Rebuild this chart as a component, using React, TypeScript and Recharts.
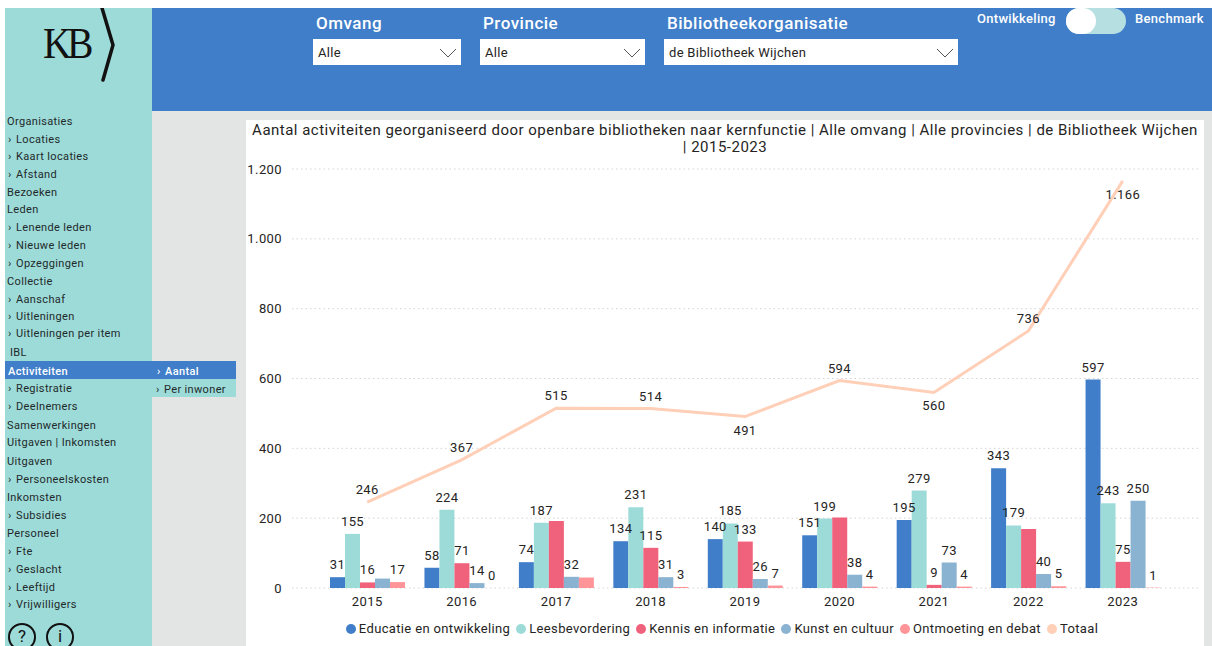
import * as React from 'react';

import {
  Bar,
  CartesianGrid,
  ComposedChart,
  LabelList,
  Legend,
  Line,
  XAxis,
  YAxis,
} from 'recharts';

const years = ['2015', '2016', '2017', '2018', '2019', '2020', '2021', '2022', '2023'];
const educatie = [31, 58, 74, 134, 140, 151, 195, 343, 597];
const leesbevordering = [155, 224, 187, 231, 185, 199, 279, 179, 243];
const kennis = [16, 71, 192, 115, 133, 202, 9, 169, 75];
const kunst = [27, 14, 32, 31, 26, 38, 73, 40, 250];
const ontmoeting = [17, 0, 30, 3, 7, 4, 4, 5, 1];
const totaal = [246, 367, 515, 514, 491, 594, 560, 736, 1166];
const yTicks = [0, 200, 400, 600, 800, 1000, 1200];

// Power BI drops these labels because they collide with a neighbour.
const kennisNoLabel = ['2017', '2020', '2022'];
const kunstNoLabel = ['2015'];
const ontmoetingNoLabel = ['2017'];
const totaalBelow = ['2019', '2021', '2023'];

const data = years.map((year, i) => ({
  year,
  educatie: educatie[i],
  leesbevordering: leesbevordering[i],
  kennis: kennis[i],
  kunst: kunst[i],
  ontmoeting: ontmoeting[i],
  totaal: totaal[i],
  kennisLabel: kennisNoLabel.includes(year) ? null : kennis[i],
  kunstLabel: kunstNoLabel.includes(year) ? null : kunst[i],
  ontmoetingLabel: ontmoetingNoLabel.includes(year) ? null : String(ontmoeting[i]),
}));

const menu = [
  ['Organisaties', 121, 0],
  ['Locaties', 139, 1],
  ['Kaart locaties', 156, 1],
  ['Afstand', 174, 1],
  ['Bezoeken', 192, 0],
  ['Leden', 209, 0],
  ['Lenende leden', 227, 1],
  ['Nieuwe leden', 245, 1],
  ['Opzeggingen', 263, 1],
  ['Collectie', 281, 0],
  ['Aanschaf', 299, 1],
  ['Uitleningen', 316, 1],
  ['Uitleningen per item', 333, 1],
  ['Registratie', 388, 1],
  ['Deelnemers', 406, 1],
  ['Samenwerkingen', 425, 0],
  ['Uitgaven | Inkomsten', 442, 0],
  ['Uitgaven', 461, 0],
  ['Personeelskosten', 479, 1],
  ['Inkomsten', 497, 0],
  ['Subsidies', 515, 1],
  ['Personeel', 533, 0],
  ['Fte', 551, 1],
  ['Geslacht', 569, 1],
  ['Leeftijd', 587, 1],
  ['Vrijwilligers', 604, 1],
] as const;

const font = 'Roboto, sans-serif';
const blue = '#407EC9';
const teal = '#9DDBD9';
const ink = '#252423';

const labelStyle = { fontSize: 13, fill: ink, fontFamily: font, letterSpacing: 0.4 };

function box(left: number, top: number, width: number, height: number, background: string): React.CSSProperties {
  return { position: 'absolute', left, top, width, height, background };
}

function MenuText({ x, y, color, bold, children }: { x: number; y: number; color?: string; bold?: boolean; children: React.ReactNode }) {
  return (
    <div
      style={{
        position: 'absolute',
        left: x,
        top: y - 7,
        height: 16,
        lineHeight: '16px',
        fontSize: 11,
        fontWeight: bold ? 500 : 400,
        letterSpacing: 0.35,
        whiteSpace: 'nowrap',
        color: color ?? '#1f2a2a',
      }}
    >
      {children}
    </div>
  );
}

function Dropdown({ x, width, title, value }: { x: number; width: number; title: string; value: string }) {
  return (
    <>
      <div style={{ position: 'absolute', left: x + 3, top: 12, fontSize: 17, lineHeight: '22px', fontWeight: 500, letterSpacing: 0.5, color: '#fff', whiteSpace: 'nowrap' }}>
        {title}
      </div>
      <div style={box(x, 39, width, 26, '#fff')} />
      <div style={{ position: 'absolute', left: x + 5, top: 40, lineHeight: '26px', fontSize: 13, letterSpacing: 0.3, color: ink, whiteSpace: 'nowrap' }}>
        {value}
      </div>
      <svg style={{ position: 'absolute', left: x + width - 22, top: 47 }} width={18} height={12}>
        <polyline points="1,2 9,10 17,2" fill="none" stroke="#555" strokeWidth={1} />
      </svg>
    </>
  );
}

function Circle({ x, children }: { x: number; children: string }) {
  return (
    <>
      <div style={{ position: 'absolute', left: x, top: 623, width: 24, height: 24, border: '2px solid #111', borderRadius: '50%' }} />
      <div style={{ position: 'absolute', left: x, top: 627, width: 28, height: 18, textAlign: 'center', lineHeight: '18px', fontSize: 17, color: '#111' }}>
        {children}
      </div>
    </>
  );
}

function TotaalLabel(props: any) {
  const { x, y, value, index } = props;
  const below = totaalBelow.includes(years[index]);
  return (
    <text x={x} y={below ? y + 18 : y - 8} textAnchor="middle" {...labelStyle}>
      {new Intl.NumberFormat('nl-NL').format(value)}
    </text>
  );
}

function LegendRow({ payload }: any) {
  return (
    <div style={{ position: 'relative', top: 3, display: 'flex', justifyContent: 'center', gap: 6, fontSize: 13, letterSpacing: 0.35, color: ink, fontFamily: font }}>
      {payload.map((item: any) => (
        <span key={item.value} style={{ display: 'flex', alignItems: 'center', gap: 3, whiteSpace: 'nowrap' }}>
          <span style={{ width: 10, height: 10, borderRadius: '50%', background: item.color }} />
          {item.value}
        </span>
      ))}
    </div>
  );
}

function Chart() {
  return (
    <ComposedChart
      width={958}
      height={526}
      data={data}
      margin={{ top: 49, right: 6, bottom: 4, left: 0 }}
      barCategoryGap={10}
      barGap={0}
    >
      <CartesianGrid horizontal vertical={false} stroke="#d4d4d4" strokeDasharray="1.5 3" />
      <XAxis
        dataKey="year"
        axisLine={false}
        tickLine={false}
        height={30}
        padding={{ left: 28, right: 28 }}
        tick={labelStyle}
        tickMargin={3}
      />
      <YAxis
        width={46}
        domain={[0, 1200]}
        ticks={yTicks}
        axisLine={false}
        tickLine={false}
        tick={labelStyle}
        tickMargin={4}
        tickFormatter={(v: number) => (v >= 1000 ? `${Math.floor(v / 1000)}.${String(v % 1000).padStart(3, '0')}` : String(v))}
      />
      <Legend verticalAlign="bottom" height={24} itemSorter={null} content={LegendRow} />
      <Bar dataKey="educatie" name="Educatie en ontwikkeling" fill={blue} isAnimationActive={false}>
        <LabelList dataKey="educatie" position="top" offset={8} style={labelStyle} />
      </Bar>
      <Bar dataKey="leesbevordering" name="Leesbevordering" fill={teal} isAnimationActive={false}>
        <LabelList dataKey="leesbevordering" position="top" offset={8} style={labelStyle} />
      </Bar>
      <Bar dataKey="kennis" name="Kennis en informatie" fill="#F0627C" isAnimationActive={false}>
        <LabelList dataKey="kennisLabel" position="top" offset={8} style={labelStyle} />
      </Bar>
      <Bar dataKey="kunst" name="Kunst en cultuur" fill="#8AB2D1" isAnimationActive={false}>
        <LabelList dataKey="kunstLabel" position="top" offset={8} style={labelStyle} />
      </Bar>
      {/* zero-height bars lose their label, so give them a hair of height */}
      <Bar
        dataKey="ontmoeting"
        name="Ontmoeting en debat"
        fill="#FF9598"
        minPointSize={(v: any) => (v === 0 ? 0.01 : 0)}
        isAnimationActive={false}
      >
        <LabelList dataKey="ontmoetingLabel" position="top" offset={8} style={labelStyle} />
      </Bar>
      <Line
        dataKey="totaal"
        name="Totaal"
        stroke="#FFCFB8"
        strokeWidth={3}
        dot={false}
        activeDot={false}
        legendType="circle"
        isAnimationActive={false}
      >
        <LabelList dataKey="totaal" content={TotaalLabel} />
      </Line>
    </ComposedChart>
  );
}

export default function App() {
  return (
    <div style={{ position: 'absolute', left: 0, top: 0, width: 1212, height: 646, overflow: 'hidden', background: '#fff', fontFamily: font }}>
      <div style={box(152, 111, 1060, 535, '#E3E5E4')} />
      <div style={box(5, 8, 147, 638, teal)} />
      <div style={box(152, 8, 1060, 103, blue)} />

      {/* logo */}
      <div style={{ position: 'absolute', left: 43, top: 20, fontFamily: 'Liberation Serif, serif', fontSize: 44, lineHeight: '48px', letterSpacing: -5, color: '#111', transform: 'scaleX(0.9)', transformOrigin: 'left' }}>
        KB
      </div>
      <svg style={{ position: 'absolute', left: 96, top: 8 }} width={24} height={76}>
        <polyline points="6,0 17,37 7,72" fill="none" stroke="#111" strokeWidth={3.5} strokeLinecap="round" />
      </svg>

      {/* side menu */}
      {menu.map(([text, y, sub]) =>
        sub ? (
          <React.Fragment key={text}>
            <MenuText x={8} y={y}>›</MenuText>
            <MenuText x={16} y={y}>{text}</MenuText>
          </React.Fragment>
        ) : (
          <MenuText key={text} x={7} y={y}>{text}</MenuText>
        ),
      )}
      <MenuText x={10} y={352}>IBL</MenuText>
      <div style={box(5, 361, 231, 18, blue)} />
      <div style={box(152, 379, 84, 18, teal)} />
      <MenuText x={8} y={371} color="#fff" bold>Activiteiten</MenuText>
      <MenuText x={157} y={371} color="#fff" bold>›</MenuText>
      <MenuText x={165} y={371} color="#fff" bold>Aantal</MenuText>
      <MenuText x={156} y={389}>›</MenuText>
      <MenuText x={164} y={389}>Per inwoner</MenuText>
      <Circle x={8}>?</Circle>
      <Circle x={46}>i</Circle>

      {/* slicers */}
      <Dropdown x={313} width={148} title="Omvang" value="Alle" />
      <Dropdown x={480} width={165} title="Provincie" value="Alle" />
      <Dropdown x={664} width={294} title="Bibliotheekorganisatie" value="de Bibliotheek Wijchen" />

      {/* toggle */}
      <div style={{ position: 'absolute', left: 977, top: 11, lineHeight: '16px', fontSize: 13, letterSpacing: 0.3, fontWeight: 500, color: '#fff', whiteSpace: 'nowrap' }}>Ontwikkeling</div>
      <div style={{ position: 'absolute', left: 1135, top: 11, lineHeight: '16px', fontSize: 13, letterSpacing: 0.3, fontWeight: 500, color: '#fff', whiteSpace: 'nowrap' }}>Benchmark</div>
      <div style={{ ...box(1066, 8, 60, 26, '#B5DFE0'), borderRadius: 13 }} />
      <div style={{ ...box(1066, 8, 30, 26, '#fff'), borderRadius: 13 }} />

      {/* chart panel */}
      <div style={box(246, 120, 958, 526, '#fff')} />
      <div style={{ position: 'absolute', left: 246, top: 122, width: 958, textAlign: 'center', fontSize: 15, lineHeight: '17px', letterSpacing: 0.49, color: ink, whiteSpace: 'nowrap' }}>
        Aantal activiteiten georganiseerd door openbare bibliotheken naar kernfunctie | Alle omvang | Alle provincies | de Bibliotheek Wijchen
        <br />| 2015-2023
      </div>
      <div style={{ position: 'absolute', left: 246, top: 120 }}>
        <Chart />
      </div>
    </div>
  );
}
